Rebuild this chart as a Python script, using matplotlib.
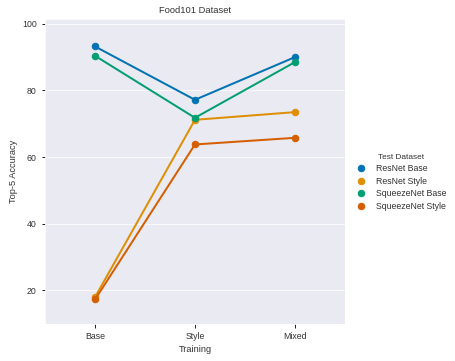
import matplotlib
matplotlib.use('Agg')
import matplotlib.pyplot as plt
import seaborn as sns
from matplotlib.lines import Line2D

# data
training = ['Base', 'Style', 'Mixed']
resnet_base = [93.2, 77.2, 90.0]
resnet_style = [18.0, 71.2, 73.5]
squeeze_base = [90.4, 71.8, 88.5]
squeeze_style = [17.3, 63.8, 65.8]
series_names = ['ResNet Base', 'ResNet Style', 'SqueezeNet Base', 'SqueezeNet Style']
series_vals = [resnet_base, resnet_style, squeeze_base, squeeze_style]

sns.set_style('darkgrid')
plt.rcParams['font.family'] = ['Liberation Sans', 'DejaVu Sans']

colors = ['#0173B2', '#DE8F05', '#029E73', '#D55E00']

fig = plt.figure(figsize=(455 / 72, 361 / 72), dpi=72)
ax = fig.add_axes([0.099, 0.103, 0.659, 0.844])

x = list(range(len(training)))
for name, vals, c in zip(series_names, series_vals, colors):
    ax.plot(x, vals, '-o', color=c, lw=2, ms=6.5, label=name)

ax.set_xlim(-0.5, 2.5)
ax.set_ylim(10, 101.4)
ax.set_xticks(x)
ax.set_xticklabels(training)
ax.set_yticks([20, 40, 60, 80, 100])
ax.grid(False, axis='x')
ax.tick_params(bottom=True, left=True, labelsize=8.8, labelcolor='#333333',
               color='#222222', direction='out', length=3.5, width=1, pad=5)
ax.set_xlabel('Training', fontsize=9.2, color='#333333')
ax.set_ylabel('Top-5 Accuracy', fontsize=9.2, color='#333333')
ax.set_title('Food101 Dataset', fontsize=9.4, color='#333333')

handles = [Line2D([], [], ls='', marker='o', ms=6.5, color=c) for c in colors]
leg = fig.legend(handles, series_names, title='Test Dataset', loc='center left',
                 bbox_to_anchor=(0.765, 0.495), frameon=False, fontsize=8.7,
                 title_fontsize=8.2, handletextpad=1.1, labelspacing=0.4,
                 handlelength=1.2)
leg.get_title().set_color('#333333')
for t in leg.get_texts():
    t.set_color('#333333')

fig.savefig('out.png', dpi=72)
